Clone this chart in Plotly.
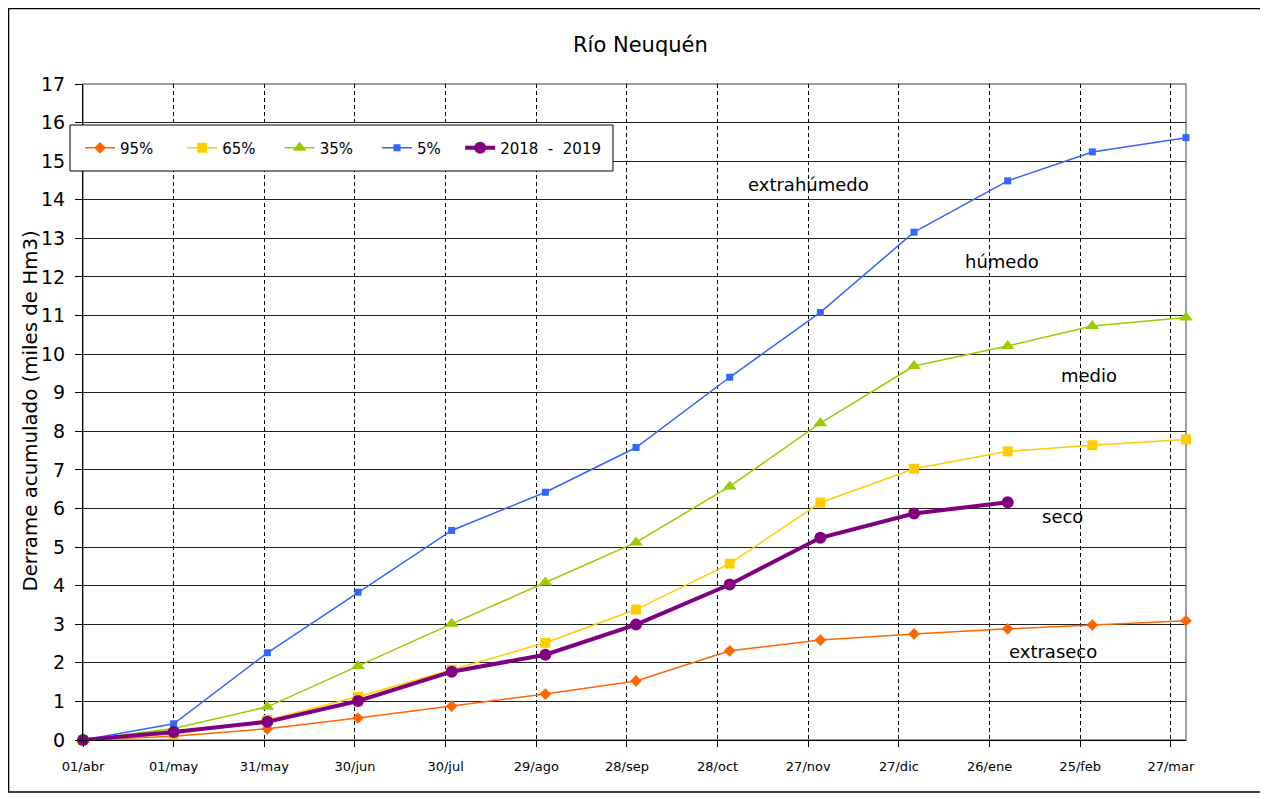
# DERRAME ACUMULADO - RIO NEUQUEN

import plotly.graph_objects as go

fechas = ['2018-04-01', '2018-05-01', '2018-06-01', '2018-07-01', '2018-08-01',
          '2018-09-01', '2018-10-01', '2018-11-01', '2018-12-01', '2019-01-01',
          '2019-02-01', '2019-03-01', '2019-04-01']

p95 = [0, 0.10, 0.29, 0.57, 0.88, 1.19, 1.53, 2.31, 2.59, 2.75, 2.88, 2.98, 3.09]
p65 = [0, 0.15, 0.52, 1.12, 1.82, 2.52, 3.38, 4.57, 6.15, 7.03, 7.48, 7.64, 7.79]
p35 = [0, 0.30, 0.86, 1.92, 3.01, 4.08, 5.12, 6.57, 8.21, 9.69, 10.21, 10.73, 10.95]
p5 = [0, 0.42, 2.26, 3.83, 5.43, 6.42, 7.58, 9.40, 11.08, 13.16, 14.49, 15.24, 15.61]
anio = [0, 0.21, 0.47, 1.01, 1.77, 2.21, 2.99, 4.03, 5.24, 5.87, 6.16]

tick_fechas = ['2018-04-01', '2018-05-01', '2018-05-31', '2018-06-30', '2018-07-30',
               '2018-08-29', '2018-09-28', '2018-10-28', '2018-11-27', '2018-12-27',
               '2019-01-26', '2019-02-25', '2019-03-27']
tick_textos = ['01/abr', '01/may', '31/may', '30/jun', '30/jul', '29/ago', '28/sep',
               '28/oct', '27/nov', '27/dic', '26/ene', '25/feb', '27/mar']

fuente = 'DejaVu Sans'
esp = '\u00a0'  # espacios en la leyenda

fig = go.Figure()

fig.add_trace(go.Scatter(name='95%' + esp * 5, x=fechas, y=p95, mode='lines+markers',
                         line=dict(color='#FF6600', width=1.5),
                         marker=dict(symbol='diamond', size=9, color='#FF6600'),
                         cliponaxis=False))
fig.add_trace(go.Scatter(name='65%' + esp * 4, x=fechas, y=p65, mode='lines+markers',
                         line=dict(color='#FFCC00', width=1.5),
                         marker=dict(symbol='square', size=10, color='#FFCC00'),
                         cliponaxis=False))
fig.add_trace(go.Scatter(name='35%' + esp * 4, x=fechas, y=p35, mode='lines+markers',
                         line=dict(color='#99CC00', width=1.5),
                         marker=dict(symbol='triangle-up', size=12, color='#99CC00'),
                         cliponaxis=False))
fig.add_trace(go.Scatter(name='5%' + esp * 3, x=fechas, y=p5, mode='lines+markers',
                         line=dict(color='#3366FF', width=1.5),
                         marker=dict(symbol='square', size=7, color='#3366FF'),
                         cliponaxis=False))
fig.add_trace(go.Scatter(name='2018' + esp * 2 + '-' + esp * 2 + '2019', x=fechas[:len(anio)], y=anio,
                         mode='lines+markers',
                         line=dict(color='#800080', width=4),
                         marker=dict(symbol='circle', size=12, color='#800080'),
                         cliponaxis=False))

fig.update_xaxes(type='date', range=['2018-04-01', '2019-04-01'],
                 tickvals=tick_fechas, ticktext=tick_textos,
                 showgrid=True, gridcolor='black', gridwidth=1, griddash='4px,3px',
                 showline=True, linecolor='black', linewidth=1,
                 ticks='outside', ticklen=6, tickcolor='black', ticklabelstandoff=8,
                 tickfont=dict(family=fuente, size=13, color='black'))
fig.update_yaxes(range=[0, 17], dtick=1,
                 showgrid=True, gridcolor='#222222', gridwidth=1,
                 showline=True, linecolor='black', linewidth=1,
                 ticks='outside', ticklen=7, tickcolor='black', ticklabelstandoff=6,
                 tickfont=dict(family=fuente, size=19, color='black'),
                 zeroline=False)

# borde gris del area de trazado y marco exterior
fig.add_shape(type='rect', xref='paper', yref='paper', x0=0, x1=1, y0=0, y1=1,
              line=dict(color='#808080', width=1.5), layer='below')
fig.add_shape(type='rect', xref='paper', yref='paper', x0=-0.0675, x1=1.0700,
              y0=-0.0793, y1=1.1151, line=dict(color='black', width=1.5))
# caja de la leyenda
fig.add_shape(type='rect', xref='paper', yref='paper', x0=-0.0118, x1=0.4805,
              y0=0.8674, y1=0.9375, fillcolor='white', layer='above',
              line=dict(color='black', width=1))

fig.add_annotation(text='Río Neuquén', xref='paper', yref='paper', x=0.505, y=1.0595,
                   yanchor='middle', showarrow=False,
                   font=dict(family=fuente, size=21, color='black'))
fig.add_annotation(text='Derrame acumulado (miles de Hm3)', xref='paper', yref='paper',
                   x=-0.048, y=0.5008, textangle=-90, xanchor='center', yanchor='middle',
                   showarrow=False, font=dict(family=fuente, size=19.8, color='black'))

etiquetas = ['extrahúmedo', 'húmedo', 'medio', 'seco', 'extraseco']
etiq_x = ['2018-11-27', '2019-01-30', '2019-02-28', '2019-02-19', '2019-02-16']
etiq_y = [14.4, 12.4, 9.45, 5.8, 2.29]
for t, xx, yy in zip(etiquetas, etiq_x, etiq_y):
    fig.add_annotation(text=t, x=xx, y=yy, showarrow=False,
                       font=dict(family=fuente, size=18, color='black'))

fig.update_layout(
    width=1260, height=791,
    margin=dict(l=75, r=82, t=76, b=59),
    plot_bgcolor='white', paper_bgcolor='white',
    showlegend=True,
    legend=dict(orientation='h', x=-0.0027, y=0.9024, xanchor='left', yanchor='middle',
                bgcolor='rgba(0,0,0,0)', borderwidth=0,
                font=dict(family=fuente, size=15, color='black')),
)

fig.write_html("out.html")
